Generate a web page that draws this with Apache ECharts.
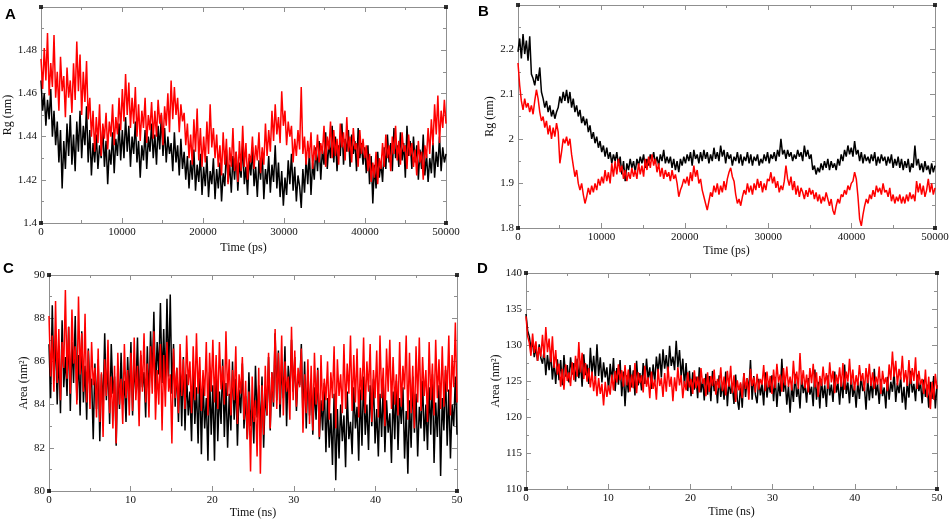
<!DOCTYPE html>
<html>
<head>
<meta charset="utf-8">
<script src="https://cdn.jsdelivr.net/npm/echarts@6/dist/echarts.min.js"></script>
<style>
html,body{margin:0;padding:0;background:#fff;}
#chart{width:952px;height:522px;}
</style>
</head>
<body>
<div id="chart"></div>
<script>
// ---------- data ----------
const panelLetters = ['A', 'B', 'C', 'D'];
const xNames = ['Time (ps)', 'Time (ps)', 'Time (ns)', 'Time (ns)'];
const yNames = ['Rg (nm)', 'Rg (nm)', 'Area (nm²)', 'Area (nm²)'];
const timeMax = [50000, 50000, 50, 50];
const timeInterval = [10000, 10000, 10, 10];
const yMin = [1.4, 1.8, 80, 110];
const yMax = [1.5, 2.3, 90, 140];
const yInterval = [0.02, 0.1, 2, 5];

const rgA_black = [
1.466,1.452,1.460,1.445,1.457,1.448,1.462,1.440,1.452,1.436,
1.447,1.428,1.443,1.416,1.438,1.425,1.446,1.431,1.450,1.427,
1.441,1.424,1.447,1.433,1.452,1.430,1.445,1.436,1.454,1.428,
1.443,1.422,1.437,1.428,1.441,1.425,1.436,1.430,1.444,1.426,
1.438,1.418,1.434,1.427,1.442,1.423,1.439,1.431,1.446,1.429,
1.443,1.430,1.449,1.433,1.445,1.426,1.440,1.432,1.447,1.428,
1.438,1.421,1.436,1.429,1.443,1.425,1.440,1.433,1.446,1.430,
1.441,1.427,1.445,1.434,1.450,1.431,1.444,1.428,1.440,1.432,
1.437,1.424,1.442,1.428,1.436,1.422,1.439,1.425,1.433,1.420,
1.431,1.416,1.429,1.420,1.434,1.415,1.427,1.419,1.432,1.413,
1.426,1.417,1.431,1.412,1.424,1.418,1.430,1.411,1.425,1.416,
1.428,1.410,1.423,1.417,1.434,1.419,1.427,1.414,1.431,1.420,
1.433,1.415,1.428,1.421,1.437,1.418,1.426,1.413,1.430,1.422,
1.435,1.417,1.426,1.412,1.429,1.420,1.433,1.411,1.425,1.418,
1.431,1.414,1.427,1.419,1.436,1.416,1.428,1.412,1.424,1.408,
1.421,1.413,1.429,1.418,1.432,1.415,1.426,1.410,1.422,1.417,
1.407,1.425,1.414,1.430,1.418,1.433,1.413,1.428,1.420,1.435,
1.424,1.438,1.420,1.434,1.427,1.442,1.425,1.437,1.430,1.445,
1.428,1.440,1.424,1.436,1.431,1.446,1.427,1.439,1.433,1.443,
1.426,1.441,1.432,1.438,1.424,1.444,1.430,1.437,1.427,1.435,
1.423,1.436,1.418,1.431,1.409,1.427,1.416,1.433,1.421,1.428,
1.419,1.435,1.425,1.441,1.428,1.437,1.424,1.444,1.430,1.436,
1.426,1.442,1.429,1.437,1.421,1.445,1.431,1.438,1.425,1.440,
1.428,1.436,1.420,1.434,1.425,1.441,1.422,1.432,1.419,1.430,
1.423,1.437,1.421,1.433,1.426,1.440,1.424,1.435,1.428,1.432
];
const rgA_red = [
1.476,1.462,1.481,1.466,1.488,1.459,1.474,1.463,1.487,1.458,
1.470,1.452,1.477,1.461,1.468,1.449,1.472,1.458,1.466,1.451,
1.474,1.457,1.484,1.461,1.478,1.450,1.470,1.456,1.475,1.448,
1.458,1.440,1.452,1.433,1.449,1.437,1.455,1.431,1.446,1.439,
1.451,1.434,1.447,1.440,1.455,1.436,1.449,1.441,1.458,1.443,
1.462,1.447,1.469,1.450,1.465,1.444,1.458,1.446,1.463,1.440,
1.455,1.438,1.452,1.444,1.458,1.437,1.450,1.443,1.456,1.439,
1.452,1.440,1.457,1.446,1.451,1.436,1.454,1.445,1.460,1.442,
1.466,1.448,1.463,1.450,1.458,1.442,1.455,1.447,1.451,1.436,
1.446,1.430,1.441,1.427,1.448,1.433,1.453,1.429,1.444,1.426,
1.440,1.428,1.447,1.432,1.455,1.435,1.444,1.430,1.441,1.426,
1.436,1.422,1.442,1.427,1.439,1.418,1.435,1.426,1.444,1.424,
1.433,1.419,1.438,1.424,1.445,1.426,1.437,1.420,1.432,1.428,
1.440,1.425,1.436,1.429,1.442,1.423,1.435,1.427,1.446,1.431,
1.443,1.433,1.452,1.438,1.455,1.441,1.449,1.437,1.461,1.445,
1.452,1.436,1.447,1.440,1.445,1.428,1.439,1.431,1.443,1.434,
1.463,1.432,1.440,1.427,1.438,1.430,1.442,1.425,1.436,1.429,
1.441,1.428,1.437,1.432,1.445,1.426,1.440,1.434,1.447,1.430,
1.443,1.431,1.439,1.427,1.446,1.435,1.442,1.429,1.449,1.433,
1.440,1.428,1.444,1.434,1.437,1.426,1.443,1.432,1.439,1.430,
1.436,1.424,1.432,1.419,1.428,1.421,1.433,1.418,1.430,1.425,
1.437,1.426,1.441,1.430,1.436,1.424,1.440,1.432,1.445,1.429,
1.438,1.427,1.442,1.433,1.436,1.425,1.441,1.431,1.437,1.426,
1.434,1.422,1.438,1.428,1.433,1.420,1.436,1.430,1.444,1.432,
1.448,1.436,1.455,1.441,1.459,1.437,1.452,1.444,1.457,1.446
];
const rgB_black = [
2.195,2.225,2.180,2.235,2.190,2.220,2.175,2.230,2.145,2.135,
2.120,2.145,2.130,2.160,2.105,2.090,2.070,2.085,2.060,2.075,
2.050,2.065,2.045,2.060,2.070,2.095,2.080,2.105,2.085,2.110,
2.080,2.105,2.070,2.090,2.060,2.075,2.050,2.065,2.035,2.050,
2.030,2.045,2.015,2.030,2.000,2.015,1.990,2.005,1.980,1.995,
1.970,1.985,1.960,1.980,1.955,1.970,1.945,1.965,1.950,1.970,
1.940,1.960,1.920,1.950,1.905,1.945,1.930,1.955,1.935,1.950,
1.925,1.955,1.940,1.960,1.945,1.965,1.935,1.955,1.940,1.965,
1.950,1.970,1.945,1.960,1.940,1.965,1.950,1.975,1.945,1.960,
1.945,1.960,1.935,1.955,1.930,1.950,1.925,1.955,1.940,1.960,
1.945,1.965,1.950,1.970,1.940,1.975,1.955,1.965,1.945,1.970,
1.950,1.975,1.955,1.970,1.945,1.965,1.950,1.980,1.955,1.970,
1.950,1.985,1.960,1.975,1.945,1.970,1.955,1.965,1.940,1.960,
1.950,1.970,1.945,1.965,1.940,1.960,1.950,1.970,1.945,1.965,
1.940,1.960,1.950,1.965,1.940,1.955,1.945,1.965,1.950,1.970,
1.945,1.965,1.955,1.970,1.950,1.975,1.960,2.000,1.965,1.975,
1.955,1.975,1.960,1.970,1.950,1.965,1.955,1.975,1.960,1.970,
1.950,1.985,1.960,1.975,1.955,1.965,1.930,1.940,1.920,1.935,
1.925,1.945,1.930,1.950,1.935,1.955,1.930,1.950,1.935,1.945,
1.930,1.955,1.940,1.965,1.950,1.975,1.960,1.985,1.965,1.980,
1.960,1.995,1.965,1.975,1.950,1.970,1.945,1.965,1.950,1.960,
1.945,1.965,1.950,1.970,1.940,1.960,1.945,1.965,1.950,1.960,
1.940,1.960,1.945,1.965,1.935,1.955,1.940,1.960,1.935,1.955,
1.930,1.950,1.935,1.955,1.925,1.945,1.935,1.985,1.940,1.955,
1.930,1.945,1.925,1.950,1.930,1.940,1.920,1.945,1.925,1.940
];
const rgB_red = [
2.170,2.120,2.085,2.065,2.090,2.070,2.080,2.060,2.075,2.055,
2.085,2.110,2.090,2.060,2.040,2.050,2.025,2.040,2.010,2.030,
2.000,2.025,2.005,2.035,2.015,1.945,1.970,2.000,1.990,2.005,
1.985,2.000,1.965,1.940,1.915,1.930,1.900,1.885,1.900,1.875,
1.855,1.870,1.890,1.875,1.895,1.880,1.900,1.885,1.910,1.895,
1.915,1.900,1.930,1.905,1.925,1.900,1.945,1.915,1.950,1.920,
1.955,1.925,1.940,1.910,1.930,1.905,1.925,1.910,1.935,1.915,
1.930,1.910,1.945,1.920,1.940,1.915,1.955,1.930,1.960,1.935,
1.965,1.940,1.955,1.925,1.945,1.915,1.935,1.910,1.930,1.915,
1.925,1.905,1.930,1.910,1.920,1.900,1.870,1.885,1.895,1.910,
1.900,1.915,1.895,1.925,1.905,1.940,1.915,1.930,1.900,1.910,
1.885,1.870,1.855,1.840,1.860,1.880,1.870,1.895,1.880,1.900,
1.875,1.895,1.880,1.905,1.885,1.910,1.925,1.935,1.915,1.905,
1.875,1.855,1.865,1.850,1.870,1.885,1.875,1.900,1.880,1.895,
1.875,1.900,1.885,1.910,1.890,1.905,1.880,1.900,1.885,1.910,
1.905,1.925,1.900,1.915,1.890,1.905,1.880,1.895,1.885,1.905,
1.940,1.910,1.895,1.915,1.885,1.905,1.875,1.895,1.870,1.890,
1.880,1.865,1.885,1.870,1.890,1.875,1.885,1.865,1.880,1.860,
1.875,1.855,1.870,1.860,1.880,1.865,1.850,1.865,1.840,1.830,
1.850,1.865,1.855,1.875,1.870,1.885,1.875,1.895,1.885,1.900,
1.905,1.925,1.910,1.870,1.820,1.805,1.830,1.850,1.865,1.855,
1.875,1.865,1.885,1.870,1.895,1.880,1.890,1.875,1.900,1.880,
1.885,1.870,1.890,1.860,1.875,1.855,1.870,1.860,1.875,1.855,
1.870,1.855,1.875,1.860,1.880,1.865,1.875,1.860,1.905,1.880,
1.900,1.875,1.895,1.870,1.885,1.910,1.880,1.900,1.875,1.890
];
const areaC_black = [
86.8,84.3,88.6,85.1,87.2,84.0,86.5,83.6,87.9,84.8,
86.2,84.4,87.6,83.7,86.9,85.0,88.1,84.2,86.3,83.5,
87.4,84.1,85.8,83.3,86.6,84.7,85.2,82.4,85.9,83.8,
86.1,82.3,85.4,83.9,87.3,84.2,86.0,83.1,86.8,84.5,
85.3,82.1,85.7,83.8,86.4,84.0,85.1,83.2,86.2,84.3,
86.9,83.5,85.8,84.6,87.1,83.9,86.3,84.8,85.5,83.4,
86.7,84.1,87.4,85.2,88.3,84.6,86.9,85.4,88.7,85.0,
87.5,84.7,88.9,85.3,89.1,84.5,86.8,83.9,85.7,83.2,
85.9,83.0,86.2,82.8,85.4,83.5,84.6,82.3,85.8,83.1,
84.8,82.2,85.6,81.7,85.1,82.9,84.3,81.4,85.5,82.6,
84.9,81.4,85.7,82.3,84.6,83.1,86.1,82.5,85.0,82.0,
84.5,82.8,86.0,83.3,85.2,82.1,84.7,83.6,85.9,82.9,
84.4,82.4,85.5,83.0,84.1,82.2,85.8,83.4,84.9,82.7,
85.3,82.0,84.6,83.5,86.2,82.8,85.5,83.9,87.3,84.2,
86.5,83.4,85.9,84.3,86.7,83.0,85.8,84.4,87.0,84.6,
86.2,83.7,85.4,84.9,86.8,83.3,86.0,82.9,85.6,83.5,
85.2,82.6,84.8,83.3,85.7,82.4,84.2,82.8,85.0,81.8,
84.3,82.0,83.6,81.2,84.5,80.5,83.8,81.5,84.0,82.3,
83.5,81.1,84.6,82.4,83.2,81.7,84.8,82.9,83.9,81.4,
84.7,82.1,85.3,82.6,84.0,81.9,84.9,83.0,85.2,82.2,
83.8,81.6,84.5,82.5,85.0,81.8,84.2,82.7,83.6,81.3,
84.6,82.4,85.1,81.9,84.3,83.1,84.8,81.5,83.7,80.8,
84.2,82.0,85.3,82.7,84.5,81.6,83.9,82.9,85.1,82.3,
84.0,81.9,84.8,82.6,85.4,81.3,84.1,82.5,84.9,80.7,
84.3,82.8,85.6,82.1,84.7,81.5,84.0,83.0,85.3,82.6
];
const areaC_red = [
88.1,85.3,87.2,84.6,88.8,85.0,87.5,84.2,86.9,85.7,
89.3,85.2,87.6,84.5,88.4,85.9,86.7,84.0,89.0,85.4,
87.3,84.6,88.2,84.1,86.5,83.8,86.9,84.9,85.7,83.4,
86.6,83.2,85.5,82.5,86.1,84.4,87.0,83.6,85.3,82.9,
85.8,82.2,86.4,84.0,85.2,83.1,86.8,84.3,85.6,83.5,
86.4,83.7,87.1,84.2,85.8,83.0,86.5,84.6,87.3,84.1,
85.9,83.4,86.7,84.5,87.4,83.3,85.6,84.0,86.8,82.8,
86.3,83.9,86.9,84.6,85.4,82.2,86.6,84.3,85.7,83.6,
86.8,84.4,86.1,83.8,87.2,84.9,86.0,83.6,86.7,84.2,
87.3,84.5,86.2,83.7,85.6,84.4,86.9,83.5,86.4,84.6,
87.0,84.1,86.3,83.8,86.9,84.7,85.8,84.0,87.4,84.4,
86.1,83.5,85.6,84.2,86.7,83.1,85.4,84.5,86.2,83.3,
85.1,82.4,84.6,80.9,85.3,83.2,84.2,81.6,85.7,80.8,
84.9,82.6,85.8,83.5,86.4,82.9,85.5,84.1,87.5,83.8,
86.4,84.0,87.2,83.5,86.0,84.6,85.3,83.3,87.6,84.2,
86.5,83.9,85.7,84.8,86.6,82.7,85.4,83.6,86.1,83.1,
85.8,82.8,86.4,84.0,85.6,82.5,86.3,83.7,85.2,84.2,
86.0,83.3,85.5,84.3,86.7,82.9,86.1,84.4,85.4,83.6,
86.8,83.8,85.9,84.5,87.2,83.7,86.3,84.1,86.6,83.4,
85.7,84.2,87.1,83.6,86.0,84.6,86.8,83.2,85.6,84.3,
86.5,83.4,87.2,84.3,85.7,83.0,86.6,84.6,87.0,83.8,
86.2,84.0,85.4,83.5,86.9,83.9,85.8,84.7,87.2,83.3,
86.4,83.6,85.8,82.9,86.7,84.1,87.1,83.7,86.2,84.4,
85.6,83.2,86.9,84.2,85.9,83.5,87.0,84.3,86.1,83.8,
86.7,83.9,85.8,84.6,87.2,83.5,86.3,84.8,87.8,84.1
];
const areaD_black = [
134.3,132.0,131.2,129.5,130.4,128.3,129.6,127.8,130.1,128.2,
127.4,129.3,125.8,128.6,126.5,128.9,125.2,127.7,124.6,128.0,
125.1,127.9,124.4,128.6,125.6,127.2,124.8,128.3,125.9,127.5,
124.9,128.1,125.4,127.6,124.2,128.7,125.8,127.3,124.6,129.6,
126.0,128.5,125.3,130.1,125.7,128.3,124.8,127.6,125.5,126.9,
123.8,127.4,124.9,128.2,123.6,126.8,124.5,127.9,122.9,126.3,
121.5,125.8,123.4,127.2,124.1,126.5,123.0,127.8,124.4,126.1,
123.7,127.5,124.6,128.1,125.2,126.9,123.9,127.3,124.8,128.4,
126.2,128.8,125.5,129.4,126.7,128.6,125.9,129.9,127.1,128.4,
126.5,130.6,126.9,129.3,125.6,128.1,124.3,127.5,123.6,126.4,
122.9,126.2,123.8,125.6,122.6,126.9,123.4,125.2,122.3,126.0,
123.1,125.7,122.2,126.4,123.6,125.0,121.9,125.8,122.8,124.6,
122.4,126.3,121.5,125.1,123.2,124.4,121.8,125.9,122.5,121.0,
124.6,121.3,126.1,122.8,125.4,123.6,127.9,122.4,125.7,123.1,
121.9,125.3,123.0,124.6,121.6,126.2,122.7,124.9,123.4,125.8,
122.2,125.6,121.4,124.8,122.9,128.1,123.5,125.2,121.7,124.3,
120.6,124.5,122.1,126.0,122.8,124.1,121.2,125.7,123.3,124.6,
122.0,125.4,123.1,124.2,121.5,126.6,122.4,124.9,121.2,125.3,
122.6,124.4,121.4,125.8,123.0,124.5,122.1,126.3,123.4,124.7,
121.7,125.1,122.6,127.3,123.2,124.8,121.9,125.6,122.8,124.3,
121.3,124.9,122.5,125.7,123.6,124.2,121.0,125.4,122.3,124.8,
122.6,126.7,123.0,124.6,121.8,125.3,122.9,124.1,121.2,125.6,
122.4,124.9,123.5,126.2,122.1,124.7,123.3,125.5,122.0,124.2,
121.0,125.0,122.7,126.4,123.4,124.6,122.2,125.9,123.6,124.8,
121.9,125.2,122.8,124.5,121.3,124.9,122.5,125.7,121.2,124.4
];
const areaD_red = [
134.0,131.2,130.3,128.5,131.6,128.9,130.5,127.8,129.7,128.4,
131.4,128.2,132.5,129.0,130.9,127.6,131.2,126.8,129.3,125.9,
127.4,124.2,126.7,123.8,127.3,125.0,126.2,124.3,127.6,125.1,
128.5,125.6,130.4,126.2,128.9,125.3,127.5,124.9,126.8,124.1,
126.3,123.6,125.7,122.9,125.4,123.2,124.6,121.6,124.9,122.8,
124.4,123.1,125.9,123.7,126.4,124.8,127.3,125.1,126.5,124.2,
127.2,124.4,126.6,123.5,125.9,124.0,127.5,123.3,126.2,124.7,
125.8,123.4,127.1,124.2,125.5,122.6,126.3,123.9,125.2,122.4,
126.7,124.3,125.4,122.8,126.1,123.5,127.0,124.2,125.6,122.2,
125.5,123.6,126.9,124.4,125.8,122.6,125.0,123.7,126.2,124.1,
125.3,123.2,126.5,124.0,125.6,123.4,126.8,124.6,125.4,122.9,
126.2,123.5,125.7,124.3,126.6,123.1,125.3,124.0,126.9,123.6,
125.6,123.0,126.4,124.2,127.1,123.3,125.8,122.1,125.1,123.7,
124.8,122.6,126.1,123.9,125.4,122.4,126.7,124.3,125.5,123.4,
126.0,123.8,125.3,124.5,127.2,123.6,126.3,124.1,125.7,123.2,
126.6,124.0,127.4,124.8,125.9,123.5,126.8,124.4,127.0,124.2,
125.6,123.7,127.8,124.6,126.3,123.9,128.9,124.5,126.5,124.0,
125.9,123.4,126.8,124.7,127.4,124.1,126.2,122.8,125.7,124.3,
127.0,124.5,126.1,123.9,127.6,124.8,126.4,123.3,125.9,124.6,
126.9,124.2,127.5,123.8,126.3,124.9,128.1,124.5,126.6,123.7,
125.8,124.4,127.2,125.0,126.1,123.6,126.8,124.7,127.4,124.3,
126.2,123.9,125.6,124.5,127.0,123.2,126.4,124.6,125.5,123.6,
127.3,125.1,129.1,125.6,127.8,124.4,126.7,125.2,128.5,124.8,
126.5,124.3,127.9,124.6,126.8,125.0,128.3,123.9,126.4,124.5,
125.3,123.2,126.6,122.7,125.6,121.1,124.9,122.4,126.0,123.9
];
const blackSeries = [rgA_black, rgB_black, areaC_black, areaD_black];
const redSeries = [rgA_red, rgB_red, areaC_red, areaD_red];

// ---------- layout / style ----------
const grids = [
  {left: 41, top: 7, width: 405, height: 216},
  {left: 518, top: 5, width: 417, height: 223},
  {left: 49, top: 275, width: 408, height: 216},
  {left: 526, top: 273, width: 411, height: 216}
];
const xNameGap = [19, 17, 15, 17];
const yNameGap = [26, 22, 17, 20];
const showYMaxLabel = [false, false, true, true];
const letterPos = [[5, 7], [478, 4], [3, 261], [477, 261]];

const frameColor = '#8f8f8f';
const serif = '"Liberation Serif", "DejaVu Serif", serif';
const traceWidth = 1.5;

function pairs(vals, tmax) {
  return vals.map((v, i) => [i * tmax / (vals.length - 1), v]);
}
function plain(v) {
  return String(Math.round(v * 1000) / 1000);
}

const xAxes = [], yAxes = [], series = [], titles = [];
for (let p = 0; p < 4; p++) {
  const common = {
    gridIndex: p, type: 'value',
    axisLine: {show: true, onZero: false, lineStyle: {color: frameColor, width: 1}},
    axisTick: {show: true, inside: true, length: 5, lineStyle: {color: frameColor}},
    minorTick: {show: true, splitNumber: 2, length: 3, lineStyle: {color: frameColor}},
    splitLine: {show: false}
  };
  const xc = Object.assign({}, common, {min: 0, max: timeMax[p], interval: timeInterval[p]});
  const yc = Object.assign({}, common, {min: yMin[p], max: yMax[p], interval: yInterval[p]});
  xAxes.push(Object.assign({}, xc, {
    position: 'bottom',
    name: xNames[p], nameLocation: 'middle', nameGap: xNameGap[p],
    nameTextStyle: {fontFamily: serif, fontSize: 12, color: '#111'},
    axisLabel: {fontFamily: serif, fontSize: 11, color: '#111', margin: 4, formatter: plain,
      showMinLabel: true, showMaxLabel: true}
  }));
  xAxes.push(Object.assign({}, xc, {position: 'top', axisLabel: {show: false}}));
  yAxes.push(Object.assign({}, yc, {
    position: 'left',
    name: yNames[p], nameLocation: 'middle', nameGap: yNameGap[p],
    nameTextStyle: {fontFamily: serif, fontSize: 12, color: '#111'},
    axisLabel: {fontFamily: serif, fontSize: 11, color: '#111', margin: 4, formatter: plain,
      showMinLabel: true, showMaxLabel: showYMaxLabel[p]}
  }));
  yAxes.push(Object.assign({}, yc, {position: 'right', axisLabel: {show: false}}));

  const xi = p * 2, yi = p * 2;
  series.push({
    type: 'line', xAxisIndex: xi, yAxisIndex: yi, data: pairs(blackSeries[p], timeMax[p]),
    symbol: 'none', lineStyle: {color: '#000', width: traceWidth}, itemStyle: {color: '#000'},
    animation: false, silent: true, z: 2
  });
  series.push({
    type: 'line', xAxisIndex: xi, yAxisIndex: yi, data: pairs(redSeries[p], timeMax[p]),
    symbol: 'none', lineStyle: {color: '#ff0000', width: traceWidth}, itemStyle: {color: '#ff0000'},
    animation: false, silent: true, z: 3
  });
  // small corner squares of the frame
  series.push({
    type: 'scatter', xAxisIndex: xi, yAxisIndex: yi, symbol: 'rect', symbolSize: 4,
    itemStyle: {color: '#000'}, clip: false, animation: false, silent: true, z: 5,
    data: [[0, yMin[p]], [0, yMax[p]], [timeMax[p], yMin[p]], [timeMax[p], yMax[p]]]
  });
  titles.push({
    text: panelLetters[p], left: letterPos[p][0], top: letterPos[p][1], padding: 0,
    textStyle: {fontFamily: '"Liberation Sans", Arial, sans-serif', fontWeight: 'bold', fontSize: 15, color: '#000'}
  });
}

const chart = echarts.init(document.getElementById('chart'), null, {renderer: 'canvas'});
chart.setOption({
  backgroundColor: '#fff',
  animation: false,
  title: titles,
  grid: grids,
  xAxis: xAxes,
  yAxis: yAxes,
  series: series
});
</script>
</body>
</html>
